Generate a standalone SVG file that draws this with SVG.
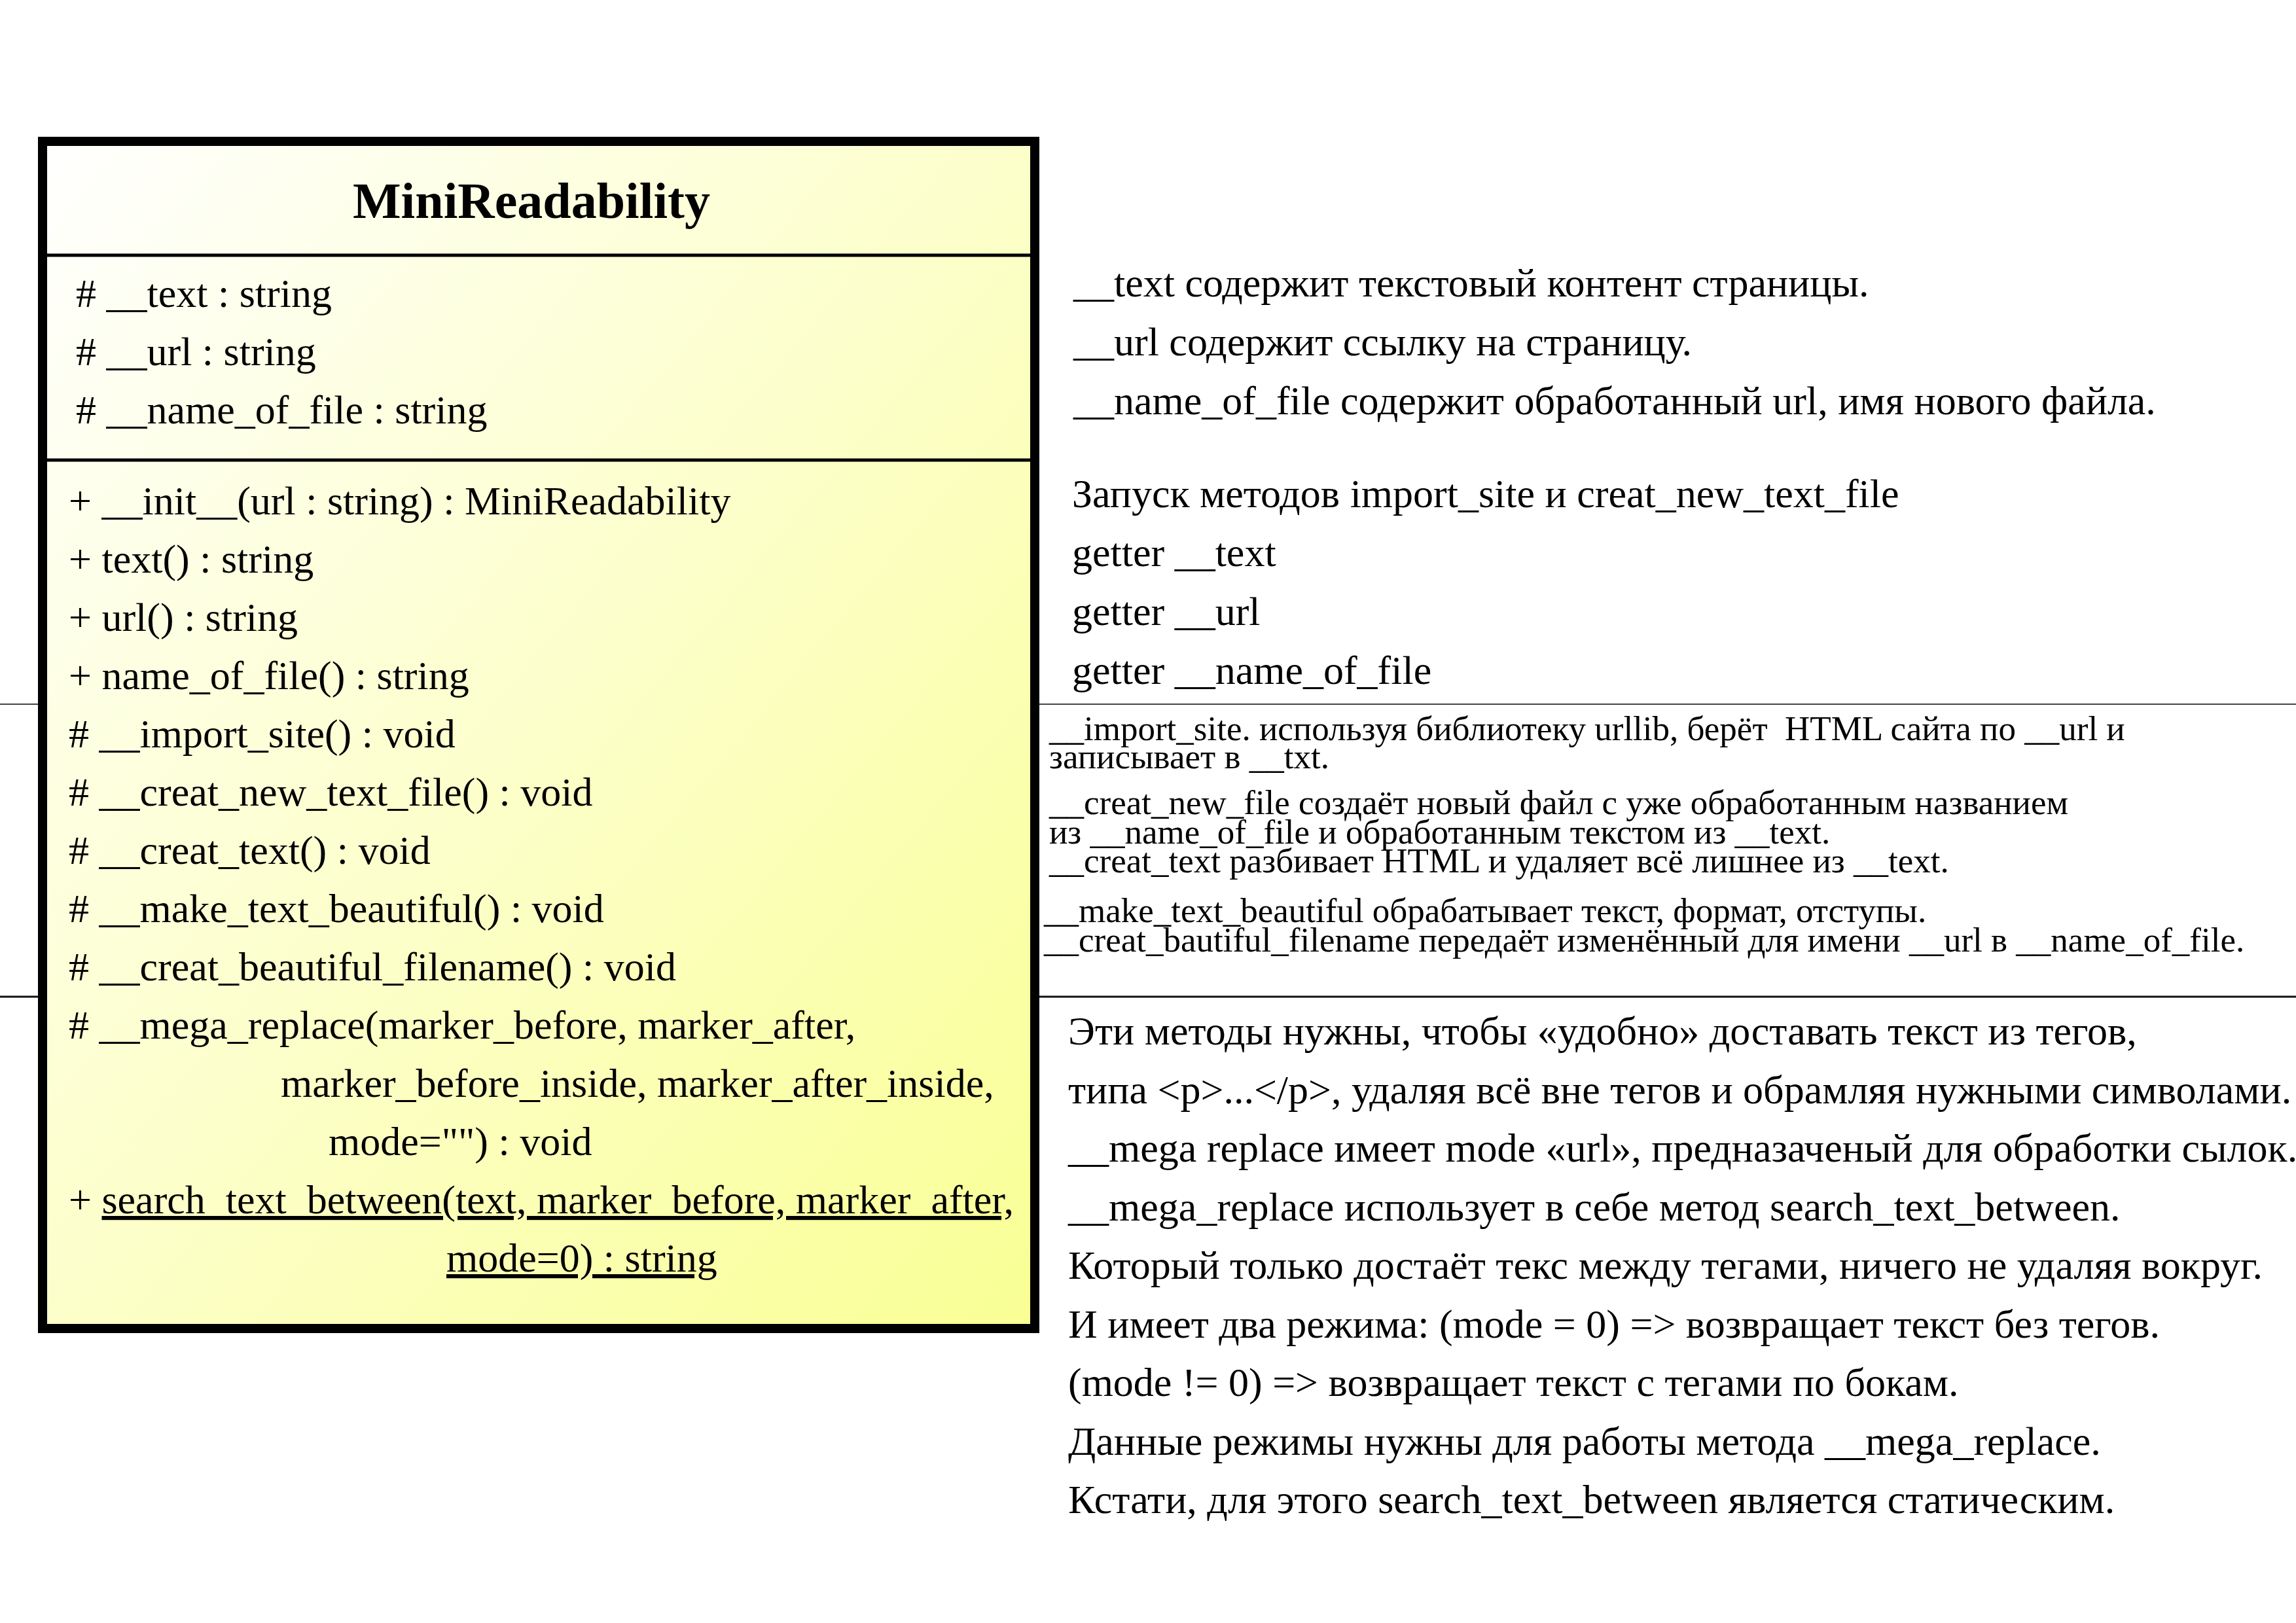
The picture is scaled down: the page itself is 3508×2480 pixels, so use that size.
<svg xmlns="http://www.w3.org/2000/svg" width="3508" height="2480" viewBox="0 0 3508 2480">
<style>
.t{font-family:"Liberation Serif","Times New Roman",serif;font-size:62px;fill:#000}
.s{font-family:"Liberation Serif","Times New Roman",serif;font-size:53px;fill:#000}
.title{font-family:"Liberation Serif","Times New Roman",serif;font-size:78px;font-weight:bold;fill:#000}
.u{text-decoration:underline}
.sep{stroke:#000;stroke-width:5}
</style>
<defs>
<linearGradient id="g" x1="0" y1="0" x2="1" y2="1">
<stop offset="0" stop-color="#ffffff"/>
<stop offset="1" stop-color="#f9ff94"/>
</linearGradient>
</defs>
<rect width="3508" height="2480" fill="#ffffff"/>
<g id="connectors">
<line x1="0" y1="1076" x2="3508" y2="1076" stroke="#444" stroke-width="2"/>
<line x1="0" y1="1523" x2="3508" y2="1523" stroke="#111" stroke-width="3"/>
</g>
<g id="MiniReadability">
<rect x="65" y="216" width="1516" height="1814" fill="url(#g)" stroke="#000" stroke-width="14"/>
<line class="sep" x1="72" y1="390" x2="1574" y2="390"/>
<line class="sep" x1="72" y1="703" x2="1574" y2="703"/>
<text class="title" x="539" y="333">MiniReadability</text>
<text class="t" x="116" y="469"># __text : string</text>
<text class="t" x="116" y="558"># __url : string</text>
<text class="t" x="116" y="647"># __name_of_file : string</text>
<text class="t" x="105" y="786">+ __init__(url : string) : MiniReadability</text>
<text class="t" x="105" y="875">+ text() : string</text>
<text class="t" x="105" y="964">+ url() : string</text>
<text class="t" x="105" y="1053">+ name_of_file() : string</text>
<text class="t" x="105" y="1142"># __import_site() : void</text>
<text class="t" x="105" y="1231"># __creat_new_text_file() : void</text>
<text class="t" x="105" y="1320"># __creat_text() : void</text>
<text class="t" x="105" y="1409"># __make_text_beautiful() : void</text>
<text class="t" x="105" y="1498"># __creat_beautiful_filename() : void</text>
<text class="t" x="105" y="1587"># __mega_replace(marker_before, marker_after,</text>
<text class="t" x="429" y="1676">marker_before_inside, marker_after_inside,</text>
<text class="t" x="502" y="1765">mode="") : void</text>
<text class="t" x="105" y="1854">+ <tspan class="u">search_text_between(text, marker_before, marker_after,</tspan></text>
<text class="t u" x="682" y="1943">mode=0) : string</text>
</g>
<g id="note-attributes">
<text class="t" x="1640" y="453">__text содержит текстовый контент страницы.</text>
<text class="t" x="1640" y="543">__url содержит ссылку на страницу.</text>
<text class="t" x="1640" y="633">__name_of_file содержит обработанный url, имя нового файла.</text>
</g>
<g id="note-public">
<text class="t" x="1638" y="775">Запуск методов import_site и creat_new_text_file</text>
<text class="t" x="1638" y="865">getter __text</text>
<text class="t" x="1638" y="955">getter __url</text>
<text class="t" x="1638" y="1045">getter __name_of_file</text>
</g>
<g id="note-private">
<text class="s" x="1603" y="1131" xml:space="preserve">__import_site. используя библиотеку urllib, берёт  HTML сайта по __url и</text>
<text class="s" x="1603" y="1174">записывает в __txt.</text>
<text class="s" x="1603" y="1244">__creat_new_file создаёт новый файл с уже обработанным названием</text>
<text class="s" x="1603" y="1289">из __name_of_file и обработанным текстом из __text.</text>
<text class="s" x="1603" y="1333">__creat_text разбивает HTML и удаляет всё лишнее из __text.</text>
<text class="s" x="1595" y="1409">__make_text_beautiful обрабатывает текст, формат, отступы.</text>
<text class="s" x="1595" y="1454">__creat_bautiful_filename передаёт изменённый для имени __url в __name_of_file.</text>
</g>
<g id="note-static">
<text class="t" x="1632" y="1596">Эти методы нужны, чтобы «удобно» доставать текст из тегов,</text>
<text class="t" x="1632" y="1686">типа &lt;p&gt;...&lt;/p&gt;, удаляя всё вне тегов и обрамляя нужными символами.</text>
<text class="t" x="1632" y="1775">__mega replace имеет mode «url», предназаченый для обработки сылок.</text>
<text class="t" x="1632" y="1865">__mega_replace использует в себе метод search_text_between.</text>
<text class="t" x="1632" y="1954">Который только достаёт текс между тегами, ничего не удаляя вокруг.</text>
<text class="t" x="1632" y="2044">И имеет два режима: (mode = 0) =&gt; возвращает текст без тегов.</text>
<text class="t" x="1632" y="2133">(mode != 0) =&gt; возвращает текст с тегами по бокам.</text>
<text class="t" x="1632" y="2223">Данные режимы нужны для работы метода __mega_replace.</text>
<text class="t" x="1632" y="2312">Кстати, для этого search_text_between является статическим.</text>
</g>
</svg>
